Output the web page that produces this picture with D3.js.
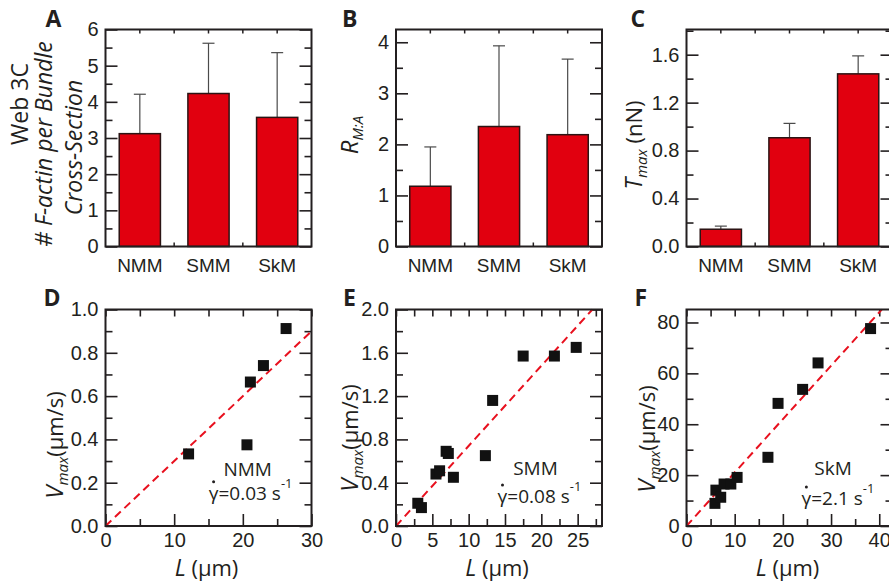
<!DOCTYPE html>
<html>
<head>
<meta charset="utf-8">
<script src="https://cdn.jsdelivr.net/npm/d3@7"></script>
<style>
  body { margin: 0; background: #fff; }
  svg { display: block; font-family: "Open Sans", sans-serif; }
  .frame { fill: none; stroke: #231f20; stroke-width: 2; }
  .tick line { stroke: #231f20; stroke-width: 1.6; }
  .tick text { fill: #231f20; font-size: 20px; }
  .cat .tick text { font-size: 19px; }
</style>
</head>
<body>
<div id="chart"></div>
<script>
// bar panels (A-C)
const categories = ['NMM', 'SMM', 'SkM'];
const fActin = [3.12, 4.23, 3.57];
const fActinErr = [1.09, 1.39, 1.79];
const ratioMA = [1.18, 2.35, 2.19];
const ratioMAErr = [0.77, 1.58, 1.48];
const tMax = [0.144, 0.907, 1.44];
const tMaxErr = [0.026, 0.12, 0.15];

// scatter panels (D-F)
const nmmL = [12.1, 20.6, 21.1, 23.0, 26.3];
const nmmV = [0.333, 0.375, 0.665, 0.741, 0.912];
const smmL = [3.0, 3.5, 5.5, 6.0, 6.9, 7.2, 7.9, 12.3, 13.3, 17.5, 21.8, 24.8];
const smmV = [0.21, 0.17, 0.48, 0.51, 0.69, 0.67, 0.45, 0.65, 1.16, 1.57, 1.57, 1.65];
const skmL = [5.9, 6.1, 7.1, 7.8, 9.2, 10.5, 16.9, 19.0, 24.1, 27.3, 38.2];
const skmV = [8.9, 14.1, 11.3, 16.5, 16.5, 19.1, 27.0, 48.2, 53.7, 64.1, 77.6];
const fitSlopes = [0.03, 0.074, 2.1];
const shearRates = ['0.03', '0.08', '2.1'];

const width = 889;
const height = 585;
const pw = 206;
const colX = [105.5, 396, 686.5];
const topRow = [29.5, 246.5];
const bottomRow = [309.5, 526];
const ink = '#231f20';
const red = '#e1000f';

const svg = d3.select('#chart').append('svg')
  .attr('width', width)
  .attr('height', height);

const drawTicks = (g, y, h, w, majors, minors, fmt) => {
  g.append('g')
    .call(d3.axisLeft(y).tickValues(majors).tickSize(-12).tickPadding(7).tickFormat(fmt));
  g.append('g')
    .call(d3.axisLeft(y).tickValues(minors).tickSize(-7).tickFormat(''));
  g.append('g').attr('transform', `translate(${w},0)`)
    .call(d3.axisRight(y).tickValues(majors).tickSize(-12).tickFormat(''));
  g.append('g').attr('transform', `translate(${w},0)`)
    .call(d3.axisRight(y).tickValues(minors).tickSize(-7).tickFormat(''));
};

const letter = (x, y, t) => {
  svg.append('text')
    .attr('x', x).attr('y', y)
    .attr('font-size', 23).attr('font-weight', 700)
    .attr('fill', ink)
    .text(t);
};

const barPanel = ({ col, values, errors, max, step, minor, fmt, label, title }) => {
  const x0 = colX[col];
  const [top, bottom] = topRow;
  const h = bottom - top;
  const g = svg.append('g').attr('transform', `translate(${x0},${top})`);

  const x = d3.scaleBand().domain(categories).range([0, pw])
    .paddingInner(0.4).paddingOuter(0.2);
  const y = d3.scaleLinear().domain([0, max]).range([h, 0]);

  const majors = d3.range(0, max + 1e-9, step);
  const minors = d3.range(minor, max, step);
  drawTicks(g, y, h, pw, majors, minors, fmt);

  // category labels
  g.append('g').attr('class', 'cat').attr('transform', `translate(0,${h})`)
    .call(d3.axisBottom(x).tickSize(0).tickPadding(12.5));

  // small ticks at bar centres and between bars
  const centres = categories.map(c => x(c) + x.bandwidth() / 2);
  const marks = centres.concat(d3.pairs(centres).map(([a, b]) => (a + b) / 2));
  marks.forEach(m => {
    g.append('line').attr('x1', m).attr('x2', m).attr('y1', h).attr('y2', h - 4)
      .attr('stroke', ink).attr('stroke-width', 1.5);
    g.append('line').attr('x1', m).attr('x2', m).attr('y1', 0).attr('y2', 4)
      .attr('stroke', ink).attr('stroke-width', 1.5);
  });

  // error bars (upper only)
  categories.forEach((c, i) => {
    const cx = x(c) + x.bandwidth() / 2;
    const yt = y(values[i] + errors[i]);
    g.append('line').attr('x1', cx).attr('x2', cx)
      .attr('y1', y(values[i])).attr('y2', yt)
      .attr('stroke', '#4a4a4a').attr('stroke-width', 1.2);
    g.append('line').attr('x1', cx - 6).attr('x2', cx + 6)
      .attr('y1', yt).attr('y2', yt)
      .attr('stroke', '#4a4a4a').attr('stroke-width', 1.2);
  });

  g.selectAll('.bar')
    .data(categories)
    .enter()
    .append('rect')
    .attr('class', 'bar')
    .attr('x', d => x(d))
    .attr('width', x.bandwidth())
    .attr('y', (d, i) => y(values[i]))
    .attr('height', (d, i) => h - y(values[i]))
    .attr('fill', red)
    .attr('stroke', '#2b1414')
    .attr('stroke-width', 1.5);

  g.selectAll('.domain').remove();
  g.append('rect').attr('class', 'frame').attr('width', pw).attr('height', h);

  letter(x0 + label.dx, top - 3, label.text);
  title(svg, x0);
};

const vTitle = (cx, cy) => (s, x0) => {
  const t = s.append('text')
    .attr('transform', `translate(${x0 + cx},${cy}) rotate(-90)`)
    .attr('text-anchor', 'middle')
    .attr('fill', ink)
    .attr('font-size', 22);
  return t;
};

barPanel({
  col: 0, values: fActin, errors: fActinErr, max: 6, step: 1, minor: 0.5,
  fmt: d3.format('d'), label: { text: 'A', dx: -60 },
  title: (s, x0) => {
    [['Web 3C', -77.5, 104, 'normal'],
     ['# F-actin per Bundle', -54, 144, 'italic'],
     ['Cross-Section', -24, 147.5, 'italic']].forEach(([txt, dx, cy, st]) => {
      vTitle(dx, cy)(s, x0).attr('font-size', 23).attr('font-style', st).text(txt);
    });
  }
});

barPanel({
  col: 1, values: ratioMA, errors: ratioMAErr, max: 4.25, step: 1, minor: 0.5,
  fmt: d3.format('d'), label: { text: 'B', dx: -54 },
  title: (s, x0) => {
    const t = vTitle(-38, 135)(s, x0);
    t.append('tspan').attr('font-style', 'italic').attr('font-size', 24).text('R');
    t.append('tspan').attr('font-style', 'italic').attr('font-size', 15).attr('dy', 5).text('M:A');
  }
});

barPanel({
  col: 2, values: tMax, errors: tMaxErr, max: 1.81, step: 0.4, minor: 0.2,
  fmt: d3.format('.1f'), label: { text: 'C', dx: -56 },
  title: (s, x0) => {
    const t = vTitle(-44.5, 145)(s, x0);
    t.append('tspan').attr('font-style', 'italic').attr('font-size', 23).text('T');
    t.append('tspan').attr('font-style', 'italic').attr('font-size', 15).attr('dy', 5).text('max');
    t.append('tspan').attr('dy', -5).text('\u00a0(nN)');
  }
});

const scatterPanel = ({ col, L, V, xMax, yMax, xStep, xMinor, yStep, yMinor, yFmt,
  slope, name, rate, note, label, titleX, titleY }) => {
  const x0 = colX[col];
  const [top, bottom] = bottomRow;
  const h = bottom - top;
  const g = svg.append('g').attr('transform', `translate(${x0},${top})`);

  const x = d3.scaleLinear().domain([0, xMax]).range([0, pw]);
  const y = d3.scaleLinear().domain([0, yMax]).range([h, 0]);

  const yMaj = d3.range(0, yMax + 1e-9, yStep);
  const yMin = d3.range(yMinor, yMax, yStep);
  drawTicks(g, y, h, pw, yMaj, yMin, yFmt);

  const xMaj = d3.range(0, xMax + 1e-9, xStep);
  const xMin = d3.range(xMinor, xMax, xStep);
  g.append('g').attr('transform', `translate(0,${h})`)
    .call(d3.axisBottom(x).tickValues(xMaj).tickSize(-12).tickPadding(6.5).tickFormat(d3.format('d')));
  g.append('g').attr('transform', `translate(0,${h})`)
    .call(d3.axisBottom(x).tickValues(xMin).tickSize(-7).tickFormat(''));
  g.append('g')
    .call(d3.axisTop(x).tickValues(xMaj.concat(xMin)).tickSize(-7).tickFormat(''));
  g.selectAll('.domain').remove();

  // fit line through origin, clipped at the frame
  const xEnd = Math.min(xMax, yMax / slope);
  g.append('line')
    .attr('x1', x(0)).attr('y1', y(0))
    .attr('x2', x(xEnd)).attr('y2', y(slope * xEnd))
    .attr('stroke', '#e8101e').attr('stroke-width', 2)
    .attr('stroke-dasharray', '8,5');

  const s = 11;
  g.selectAll('.pt')
    .data(L)
    .enter()
    .append('rect')
    .attr('class', 'pt')
    .attr('x', d => x(d) - s / 2)
    .attr('y', (d, i) => y(V[i]) - s / 2)
    .attr('width', s).attr('height', s)
    .attr('fill', '#111');

  g.append('rect').attr('class', 'frame').attr('width', pw).attr('height', h);

  // annotation
  g.append('text')
    .attr('x', x(note.x)).attr('y', y(note.y))
    .attr('text-anchor', 'middle').attr('font-size', 19).attr('fill', ink)
    .text(name);
  const base = y(note.y) + note.gap;
  const rt = g.append('text')
    .attr('x', x(note.x) + note.dx).attr('y', base)
    .attr('text-anchor', 'middle').attr('font-size', 19).attr('fill', ink);
  rt.append('tspan').text(`\u03b3=${rate} s`);
  rt.append('tspan').attr('font-size', 13).attr('dy', -12).text('-1');
  const ext = rt.node().getExtentOfChar(0);
  g.append('circle')
    .attr('cx', ext.x + ext.width / 2).attr('cy', base - 18)
    .attr('r', 1.5).attr('fill', ink);

  // axis titles
  svg.append('text')
    .attr('x', x0 + pw / 2 - 2).attr('y', 576)
    .attr('text-anchor', 'middle').attr('font-size', 22).attr('fill', ink)
    .call(t => {
      t.append('tspan').attr('font-style', 'italic').attr('font-size', 23).text('L');
      t.append('tspan').text(' (\u03bcm)');
    });
  const vt = svg.append('text')
    .attr('transform', `translate(${x0 + titleX},${titleY}) rotate(-90)`)
    .attr('text-anchor', 'middle').attr('font-size', 22).attr('fill', ink);
  vt.append('tspan').attr('font-style', 'italic').attr('font-size', 24).text('V');
  vt.append('tspan').attr('font-style', 'italic').attr('font-size', 15).attr('dy', 5).text('max');
  vt.append('tspan').attr('dy', -5).text('(\u03bcm/s)');

  letter(x0 + label.dx, top - 4, label.text);
};

scatterPanel({
  col: 0, L: nmmL, V: nmmV, xMax: 30, yMax: 1, xStep: 10, xMinor: 5,
  yStep: 0.2, yMinor: 0.1, yFmt: d3.format('.1f'), slope: fitSlopes[0],
  name: 'NMM', rate: shearRates[0], note: { x: 20.7, y: 0.232, dx: 3, gap: 24 },
  label: { text: 'D', dx: -62 }, titleX: -43, titleY: 445
});

scatterPanel({
  col: 1, L: smmL, V: smmV, xMax: 28.35, yMax: 2, xStep: 5, xMinor: 2.5,
  yStep: 0.4, yMinor: 0.2, yFmt: d3.format('.1f'), slope: fitSlopes[1],
  name: 'SMM', rate: shearRates[1], note: { x: 19.2, y: 0.47, dx: 4, gap: 28 },
  label: { text: 'E', dx: -53 }, titleX: -38, titleY: 438
});

scatterPanel({
  col: 2, L: skmL, V: skmV, xMax: 42.75, yMax: 85.1, xStep: 10, xMinor: 5,
  yStep: 20, yMinor: 10, yFmt: d3.format('d'), slope: fitSlopes[2],
  name: 'SkM', rate: shearRates[2], note: { x: 30.4, y: 20, dx: 5, gap: 30 },
  label: { text: 'F', dx: -52 }, titleX: -31.5, titleY: 439
});
</script>
</body>
</html>
